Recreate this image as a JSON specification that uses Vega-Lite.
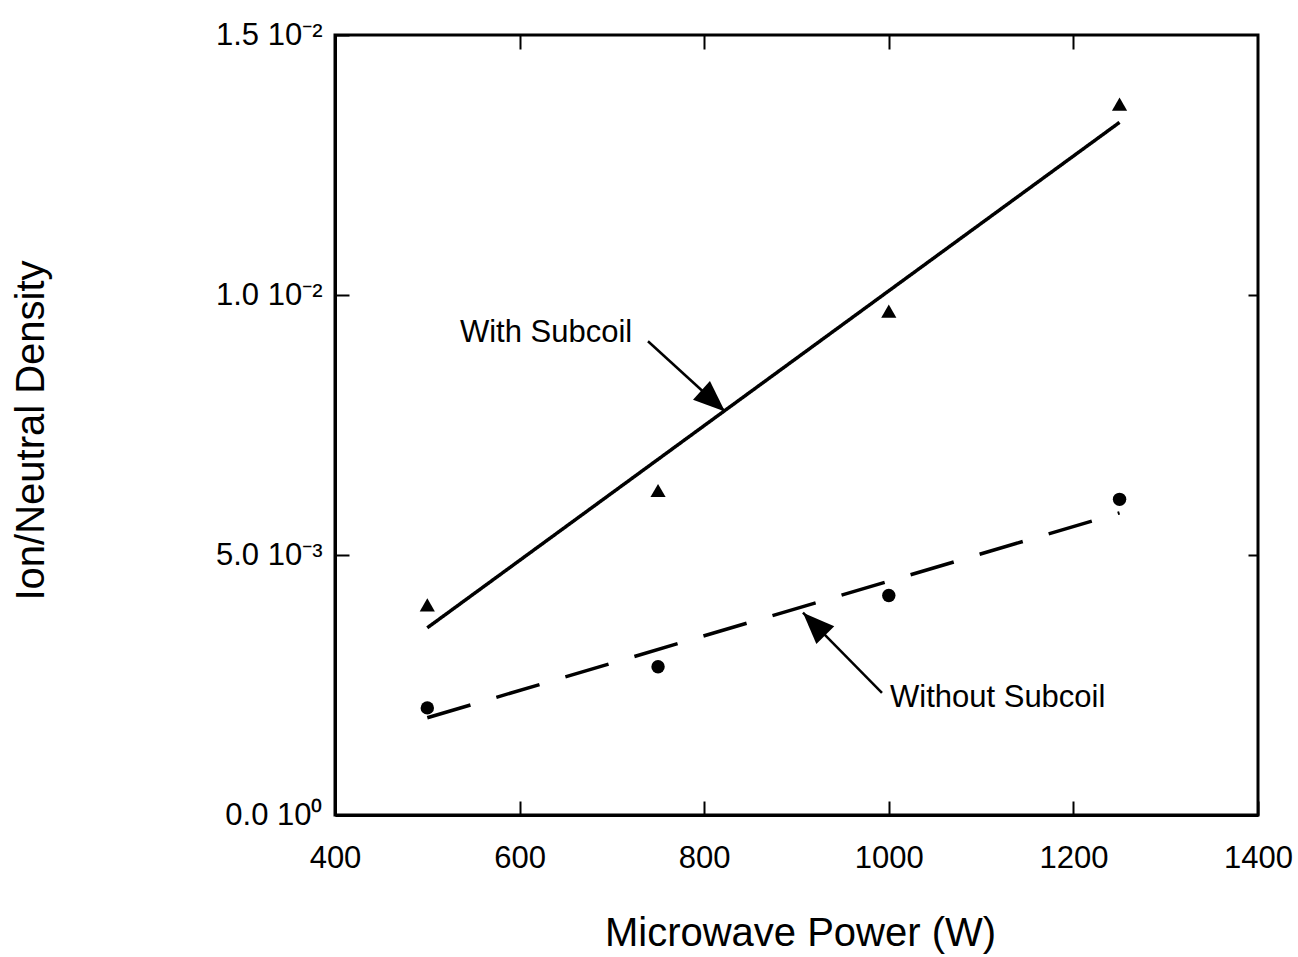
{
  "$schema": "https://vega.github.io/schema/vega-lite/v6.json",
  "width": 923,
  "height": 780,
  "autosize": {"type": "none"},
  "padding": {"left": 335, "top": 35, "right": 40, "bottom": 142},
  "background": "white",
  "config": {
    "font": "Liberation Sans",
    "view": {"stroke": "black", "strokeWidth": 3},
    "axis": {
      "grid": false,
      "domainColor": "black",
      "domainWidth": 3,
      "tickColor": "black",
      "tickWidth": 2,
      "labelColor": "black",
      "titleColor": "black",
      "labelFont": "Liberation Sans",
      "titleFont": "Liberation Sans",
      "labelFontSize": 31,
      "titleFontSize": 40,
      "titleFontWeight": "normal"
    }
  },
  "datasets": {
    "points": [
      {"power": 500, "density": 0.00404, "series": "With Subcoil"},
      {"power": 750, "density": 0.00624, "series": "With Subcoil"},
      {"power": 1000, "density": 0.00969, "series": "With Subcoil"},
      {"power": 1250, "density": 0.01367, "series": "With Subcoil"},
      {"power": 500, "density": 0.00206, "series": "Without Subcoil"},
      {"power": 750, "density": 0.00285, "series": "Without Subcoil"},
      {"power": 1000, "density": 0.00422, "series": "Without Subcoil"},
      {"power": 1250, "density": 0.00607, "series": "Without Subcoil"}
    ],
    "fits": [
      {"power": 500, "density": 0.0036, "series": "With Subcoil"},
      {"power": 1250, "density": 0.01332, "series": "With Subcoil"},
      {"power": 500, "density": 0.00187, "series": "Without Subcoil"},
      {"power": 1250, "density": 0.00581, "series": "Without Subcoil"}
    ],
    "notes": [
      {"label": "With Subcoil", "tx": 535.4, "ty": 0.00909, "x1": 739.1, "y1": 0.00911, "x2": 822.5, "y2": 0.00776},
      {"label": "Without Subcoil", "tx": 1001.3, "ty": 0.00208, "x1": 992.6, "y1": 0.00235, "x2": 907, "y2": 0.00389}
    ]
  },
  "layer": [
    {
      "data": {"name": "fits"},
      "mark": {"type": "line", "color": "black", "strokeWidth": 3.5},
      "encoding": {
        "x": {
          "field": "power", "type": "quantitative",
          "scale": {"domain": [400, 1400], "nice": false, "zero": false},
          "axis": {
            "orient": "bottom",
            "values": [400, 600, 800, 1000, 1200, 1400],
            "format": "d",
            "tickSize": -14,
            "labelPadding": 42,
            "labelBaseline": "top",
            "labelFlush": false,
            "title": "Microwave Power (W)",
            "titleX": 465,
            "titleY": 130,
            "titleAlign": "center",
            "titleBaseline": "alphabetic"
          }
        },
        "y": {
          "field": "density", "type": "quantitative",
          "scale": {"domain": [0, 0.015], "nice": false},
          "axis": {
            "orient": "left",
            "values": [0, 0.005, 0.01, 0.015],
            "labelExpr": "datum.value === 0 ? '0.0 10⁰' : datum.value < 0.0075 ? '5.0 10⁻³' : datum.value < 0.0125 ? '1.0 10⁻²' : '1.5 10⁻²'",
            "tickSize": -14,
            "labelPadding": 27,
            "labelFlush": false,
            "labelBaseline": "middle",
            "title": "Ion/Neutral Density",
            "titleX": -292,
            "titleY": 395,
            "titleAngle": -90,
            "titleAlign": "center",
            "titleBaseline": "alphabetic"
          }
        },
        "detail": {"field": "series"},
        "strokeDash": {
          "field": "series", "type": "nominal",
          "scale": {"domain": ["With Subcoil", "Without Subcoil"], "range": [[1, 0], [45, 27]]},
          "legend": null
        }
      }
    },
    {
      "data": {"name": "points"},
      "mark": {"type": "point", "filled": true, "color": "black", "opacity": 1},
      "encoding": {
        "x": {"field": "power", "type": "quantitative", "axis": null},
        "y": {"field": "density", "type": "quantitative", "axis": null},
        "shape": {
          "field": "series", "type": "nominal",
          "scale": {"domain": ["With Subcoil", "Without Subcoil"], "range": ["triangle-up", "circle"]},
          "legend": null
        },
        "size": {
          "field": "series", "type": "nominal",
          "scale": {"domain": ["With Subcoil", "Without Subcoil"], "range": [230, 180]},
          "legend": null
        }
      }
    },
    {
      "data": {"name": "notes"},
      "mark": {"type": "rule", "color": "black", "strokeWidth": 2.5},
      "encoding": {
        "x": {"field": "x1", "type": "quantitative", "axis": null},
        "y": {"field": "y1", "type": "quantitative", "axis": null},
        "x2": {"field": "x2"},
        "y2": {"field": "y2"}
      }
    },
    {
      "data": {"name": "notes"},
      "transform": [{"filter": "datum.label === 'With Subcoil'"}],
      "mark": {"type": "point", "shape": "M0,0L0.8,2L-0.8,2Z", "filled": true, "color": "black", "opacity": 1, "size": 1000, "angle": 132},
      "encoding": {
        "x": {"field": "x2", "type": "quantitative", "axis": null},
        "y": {"field": "y2", "type": "quantitative", "axis": null}
      }
    },
    {
      "data": {"name": "notes"},
      "transform": [{"filter": "datum.label === 'Without Subcoil'"}],
      "mark": {"type": "point", "shape": "M0,0L0.8,2L-0.8,2Z", "filled": true, "color": "black", "opacity": 1, "size": 1000, "angle": 315},
      "encoding": {
        "x": {"field": "x2", "type": "quantitative", "axis": null},
        "y": {"field": "y2", "type": "quantitative", "axis": null}
      }
    },
    {
      "data": {"name": "notes"},
      "mark": {"type": "text", "align": "left", "baseline": "alphabetic", "fontSize": 31, "color": "black", "font": "Liberation Sans"},
      "encoding": {
        "x": {"field": "tx", "type": "quantitative", "axis": null},
        "y": {"field": "ty", "type": "quantitative", "axis": null},
        "text": {"field": "label"}
      }
    },
    {
      "data": {"name": "points"},
      "mark": {"type": "point", "opacity": 0},
      "encoding": {
        "x": {
          "field": "power", "type": "quantitative",
          "axis": {"orient": "top", "values": [600, 800, 1000, 1200], "labels": false, "domain": false, "tickSize": -14, "title": null}
        },
        "y": {
          "field": "density", "type": "quantitative",
          "axis": {"orient": "right", "values": [0.005, 0.01], "labels": false, "domain": false, "tickSize": -10, "title": null}
        }
      }
    }
  ],
  "resolve": {"axis": {"x": "independent", "y": "independent"}}
}
